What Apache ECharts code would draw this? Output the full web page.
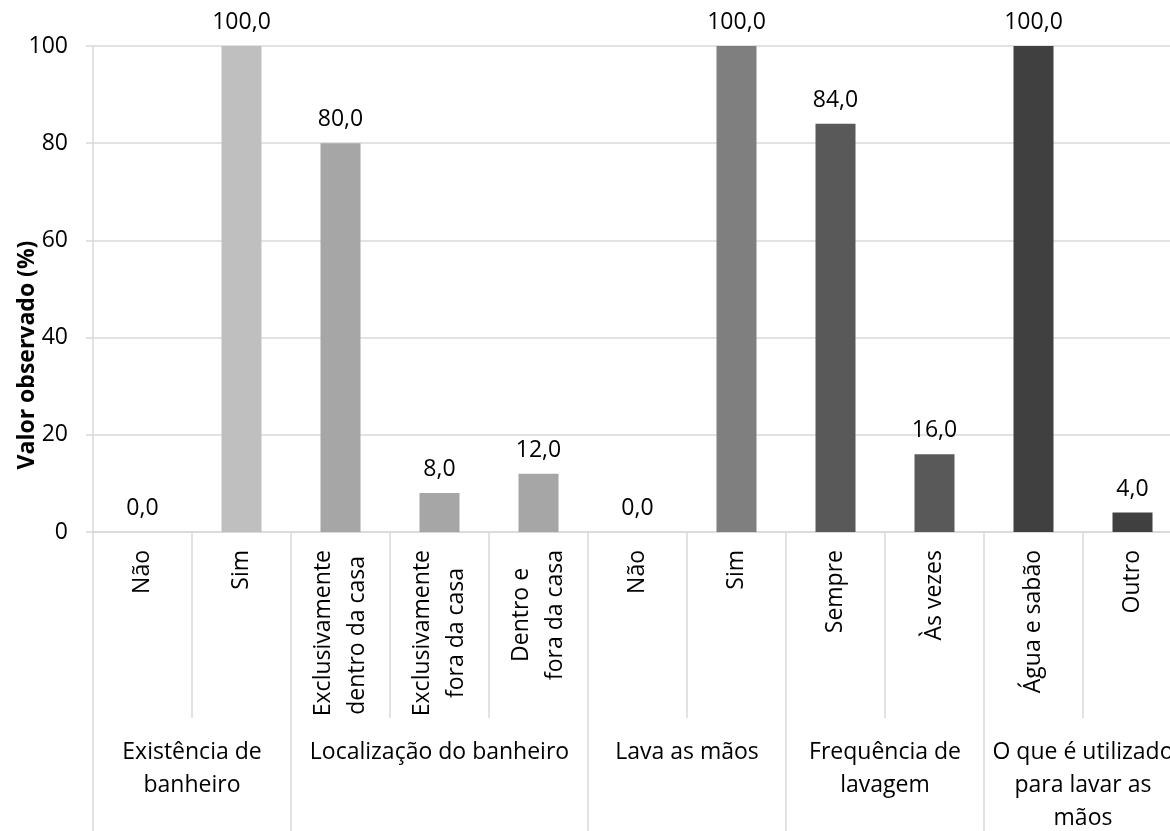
<!DOCTYPE html>
<html><head><meta charset="utf-8">
<script src="https://cdn.jsdelivr.net/npm/echarts@6/dist/echarts.min.js"></script>
<style>html,body{margin:0;padding:0;background:#fff}#c{width:1170px;height:831px}</style>
</head><body><div id="c"></div>
<script>
const categories = ['Não','Sim','Exclusivamente\ndentro da casa','Exclusivamente\nfora da casa','Dentro e\nfora da casa','Não','Sim','Sempre','Às vezes','Água e sabão','Outro'];
const values = [0,100,80,8,12,0,100,84,16,100,4];
const groupNames = ['Existência de\nbanheiro','Localização do banheiro','Lava as mãos','Frequência de\nlavagem','O que é utilizado\npara lavar as\nmãos'];
const groupSizes = [2,3,2,2,2];
const yTicks = [0,20,40,60,80,100];
const yName = 'Valor observado (%)';

const FONT = '"Open Sans", sans-serif';
const FS = 23;
const groupColors = ['#bfbfbf','#a6a6a6','#7f7f7f','#595959','#404040'];

const groupIdx = [];
const bounds = [0];
const centers = [];
let acc = 0;
groupSizes.forEach((n,g)=>{ for(let i=0;i<n;i++) groupIdx.push(g); centers.push(acc + n/2); acc += n; bounds.push(acc); });

// center the lines of each rotated multi-line label within its block (trailing no-break spaces)
const ctx = document.createElement('canvas').getContext('2d');
ctx.font = FS + 'px "Open Sans"';
const NB = '\u00a0';
const nbw = ctx.measureText(NB).width || FS * 0.26;
const centeredLabels = categories.map(c=>{
  const lines = c.split('\n');
  const ws = lines.map(l=>ctx.measureText(l).width);
  const m = Math.max(...ws);
  return lines.map((l,j)=> l + NB.repeat(Math.max(0, Math.round((m - ws[j]) / 2 / nbw)))).join('\n');
});

const chart = echarts.init(document.getElementById('c'), null, {renderer:'canvas'});
chart.setOption({
  animation:false,
  textStyle:{fontFamily:FONT},
  grid:{left:93, width:1089, top:46, bottom:299, containLabel:false, outerBoundsMode:'none'},
  xAxis:[{
    type:'category', data:categories, position:'bottom',
    boundaryGap:true,
    axisLine:{show:true, lineStyle:{color:'#d9d9d9', width:1.5}},
    axisTick:{show:true, interval:0, alignWithLabel:false, length:186, lineStyle:{color:'#d9d9d9', width:1.5}},
    axisLabel:{interval:0, rotate:90, margin:18, fontSize:FS, fontFamily:FONT, color:'#000', lineHeight:34,
      formatter:(v,i)=> centeredLabels[i]},
    splitLine:{show:false}
  },{
    type:'value', min:0, max:categories.length, position:'bottom',
    axisLine:{show:false},
    axisTick:{show:true, customValues:bounds, length:320, lineStyle:{color:'#d9d9d9', width:1.5}},
    axisLabel:{show:true, customValues:centers, margin:204, fontSize:FS, fontFamily:FONT, color:'#000', lineHeight:33, verticalAlign:'top', align:'center',
      formatter:(v)=>{ const k = centers.findIndex(c=>Math.abs(c-v)<1e-6); return k>=0 ? groupNames[k] : ''; }},
    splitLine:{show:false}
  }],
  yAxis:{
    type:'value', min:0, max:100, interval:20,
    name:yName, nameLocation:'middle', nameRotate:90, nameGap:54, nameMoveOverlap:false,
    nameTextStyle:{fontSize:23, fontWeight:'bold', fontFamily:FONT, color:'#000', padding:[0,132,0,0]},
    axisLine:{show:true, lineStyle:{color:'#d9d9d9', width:1.5}},
    axisTick:{show:true, length:7, lineStyle:{color:'#d9d9d9', width:1.5}},
    axisLabel:{fontSize:FS, fontFamily:FONT, color:'#000', margin:25, customValues: yTicks},
    splitLine:{show:true, lineStyle:{color:'#d9d9d9', width:1.5}}
  },
  series:[{
    type:'bar', xAxisIndex:0, yAxisIndex:0, barWidth:40,
    data: values.map((v,i)=>({value:v, itemStyle:{color:groupColors[groupIdx[i]]}})),
    label:{show:true, position:'top', distance:12, fontSize:FS, fontFamily:FONT, color:'#000',
      formatter:(p)=>p.value.toFixed(1).replace('.',',')}
  }]
});
</script></body></html>
